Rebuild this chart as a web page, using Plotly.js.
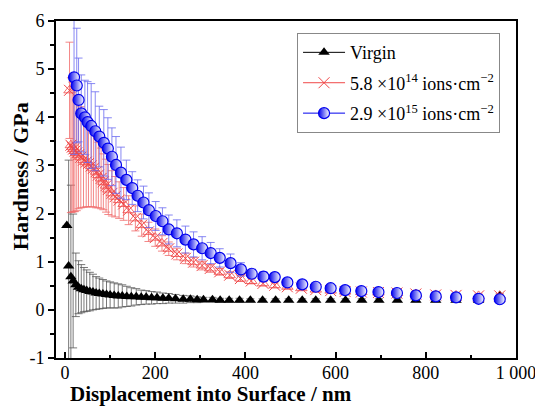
<!DOCTYPE html>
<html>
<head>
<meta charset="utf-8">
<script src="https://cdn.plot.ly/plotly-3.0.1.min.js"></script>
<style>html,body{margin:0;padding:0;background:#fff;}#chart{width:535px;height:406px;}</style>
</head>
<body>
<div id="chart"></div>
<script>
// Virgin
const virginX = [4, 8, 13, 18, 24, 30, 36, 42, 48, 55, 62, 69, 76, 84, 92, 100, 109, 118, 127, 137, 147, 158, 169, 180, 192, 204, 217, 230, 245, 262, 278, 293, 307, 327, 344, 364, 387, 411, 438, 467, 496, 526, 556, 589, 622, 658, 696, 737, 778, 822, 867, 917, 964];
const virginY = [1.75, 0.91, 0.69, 0.60, 0.52, 0.47, 0.44, 0.42, 0.40, 0.38, 0.37, 0.35, 0.34, 0.33, 0.32, 0.31, 0.30, 0.29, 0.29, 0.28, 0.27, 0.27, 0.26, 0.26, 0.25, 0.25, 0.24, 0.24, 0.23, 0.22, 0.22, 0.21, 0.21, 0.21, 0.20, 0.20, 0.20, 0.20, 0.20, 0.20, 0.20, 0.20, 0.20, 0.20, 0.20, 0.20, 0.20, 0.20, 0.20, 0.20, 0.20, 0.20, 0.30];
const virginErr = [0, 2.2, 1.9, 1.39, 0.66, 0.55, 0.5, 0.46, 0.43, 0.4, 0.37, 0.34, 0.32, 0.3, 0.28, 0.27, 0.26, 0.25, 0.23, 0.21, 0.19, 0.17, 0.15, 0.14, 0.13, 0.12, 0.11, 0.1, 0.09, 0.08, 0.07, 0.06, 0.05, 0.05, 0.04, 0.04, 0.04, 0.03, 0.03, 0.03, 0.03, 0.03, 0.03, 0.03, 0.03, 0.03, 0.03, 0.03, 0.03, 0.03, 0.03, 0.03, 0.03];

// 5.8e14
const lowX = [10, 13, 16, 19, 22, 26, 30, 35, 41, 47, 52, 58, 63, 69, 74, 80, 85, 91, 96, 104, 111, 120, 130, 141, 156, 170, 185, 200, 215, 230, 248, 267, 285, 304, 322, 343, 365, 389, 413, 439, 465, 493, 524, 556, 589, 621, 657, 695, 736, 778, 822, 867, 917, 964];
const lowY = [4.56, 3.42, 3.38, 3.34, 3.30, 3.26, 3.22, 3.17, 3.11, 3.07, 3.04, 2.99, 2.94, 2.87, 2.80, 2.73, 2.66, 2.58, 2.50, 2.42, 2.35, 2.28, 2.20, 2.07, 1.90, 1.76, 1.62, 1.50, 1.38, 1.27, 1.16, 1.07, 0.99, 0.92, 0.86, 0.79, 0.72, 0.65, 0.60, 0.55, 0.51, 0.48, 0.45, 0.42, 0.40, 0.38, 0.37, 0.36, 0.35, 0.33, 0.31, 0.30, 0.29, 0.29];
const lowErr = [1.0, 1.4, 1.35, 1.3, 1.26, 1.2, 1.12, 1.05, 0.98, 0.93, 0.9, 0.85, 0.8, 0.75, 0.68, 0.63, 0.58, 0.55, 0.52, 0.47, 0.42, 0.38, 0.34, 0.3, 0.26, 0.23, 0.2, 0.18, 0.16, 0.14, 0.12, 0.11, 0.1, 0.09, 0.08, 0.07, 0.07, 0.06, 0.06, 0.05, 0.05, 0.04, 0.04, 0.04, 0.04, 0.04, 0.04, 0.04, 0.04, 0.04, 0.04, 0.04, 0.04, 0.04];

// 2.9e15
const highX = [20, 26, 30, 36, 44, 50, 58, 67, 76, 86, 95, 104, 113, 124, 136, 149, 161, 174, 186, 201, 216, 230, 248, 267, 285, 304, 323, 343, 367, 390, 414, 440, 465, 493, 526, 556, 589, 621, 657, 695, 736, 778, 822, 867, 917, 964];
const highY = [4.83, 4.66, 4.36, 4.08, 4.00, 3.90, 3.82, 3.71, 3.60, 3.47, 3.35, 3.18, 3.01, 2.85, 2.70, 2.53, 2.37, 2.23, 2.07, 1.95, 1.84, 1.67, 1.59, 1.46, 1.36, 1.28, 1.18, 1.08, 0.97, 0.84, 0.75, 0.69, 0.68, 0.57, 0.53, 0.48, 0.45, 0.41, 0.39, 0.37, 0.35, 0.30, 0.28, 0.26, 0.23, 0.22];
const highErr = [1.6, 1.19, 0.87, 0.8, 0.77, 0.84, 0.88, 0.82, 0.63, 0.69, 0.64, 0.6, 0.59, 0.53, 0.41, 0.34, 0.33, 0.34, 0.36, 0.3, 0.28, 0.3, 0.28, 0.28, 0.26, 0.24, 0.22, 0.19, 0.19, 0.14, 0.09, 0.1, 0.08, 0.07, 0.06, 0.05, 0.05, 0.04, 0.04, 0.04, 0.03, 0.03, 0.03, 0.03, 0.03, 0.03];

const names = ['Virgin', '5.8 ×10<sup>14</sup> ions·cm<sup>−2</sup>', '2.9 ×10<sup>15</sup> ions·cm<sup>−2</sup>'];
const xTicks = [0, 200, 400, 600, 800, 1000];
const xTickText = ['0', '200', '400', '600', '800', '1 000'];
const yTicks = [-1, 0, 1, 2, 3, 4, 5, 6];
const yTickText = ['-1', '0', '1', '2', '3', '4', '5', '6'];
const xTitle = 'Displacement into Surface / nm';
const yTitle = 'Hardness / GPa';

const font = 'Liberation Serif, Times New Roman, serif';

const traces = [
  {x: virginX, y: virginY, type: 'scatter', mode: 'markers', showlegend: false,
   marker: {symbol: 'triangle-up', size: 10, color: '#000'},
   error_y: {type: 'data', array: virginErr, visible: true, color: '#555', thickness: 0.8, width: 4}},
  {x: lowX, y: lowY, type: 'scatter', mode: 'markers', showlegend: false,
   marker: {symbol: 'triangle-up-open', size: 10, color: '#f04848', line: {width: 0.8, color: '#f04848'}},
   error_y: {type: 'data', array: lowErr, visible: true, color: '#f06a6a', thickness: 0.8, width: 4}},
  {x: lowX, y: lowY, type: 'scatter', mode: 'markers', showlegend: false,
   marker: {symbol: 'x-thin-open', size: 11, color: '#f04848', line: {width: 1, color: '#f04848'}}},
  {x: highX, y: highY, type: 'scatter', mode: 'markers', showlegend: false,
   marker: {symbol: 'circle', size: 11, color: '#0000ee', line: {width: 1.2, color: '#0000ee'},
            gradient: {type: 'horizontal', color: '#ffffff'}},
   error_y: {type: 'data', array: highErr, visible: true, color: '#6a6af0', thickness: 0.8, width: 4}},
  // legend entries
  {x: [null], y: [null], type: 'scatter', mode: 'lines+markers', name: names[0], legendgroup: 'a',
   line: {color: '#000', width: 1}, marker: {symbol: 'triangle-up', size: 10, color: '#000'}},
  {x: [null], y: [null], type: 'scatter', mode: 'lines+markers', name: names[1], legendgroup: 'b',
   line: {color: '#f04848', width: 1}, marker: {symbol: 'x-thin-open', size: 11, color: '#f04848', line: {width: 1, color: '#f04848'}}},
  {x: [null], y: [null], type: 'scatter', mode: 'lines+markers', name: names[2], legendgroup: 'c',
   line: {color: '#0000ee', width: 1}, marker: {symbol: 'circle', size: 11, color: '#0000ee', line: {width: 1.2, color: '#0000ee'}, gradient: {type: 'horizontal', color: '#ffffff'}}}
];

const layout = {
  width: 535, height: 406,
  margin: {l: 56, r: 19, t: 21, b: 48},
  paper_bgcolor: '#fff', plot_bgcolor: '#fff',
  font: {family: font, size: 18, color: '#000'},
  showlegend: true,
  legend: {x: 0.524, y: 0.964, xanchor: 'left', yanchor: 'top', bgcolor: '#fff',
           bordercolor: '#888', borderwidth: 1, itemwidth: 42, tracegroupgap: 4, traceorder: 'grouped',
           font: {family: font, size: 18, color: '#000'}},
  xaxis: {range: [-20, 1000], showline: true, linewidth: 2, linecolor: '#000', mirror: true,
          ticks: 'inside', ticklen: 6, tickwidth: 2, tickcolor: '#000',
          tickvals: xTicks, ticktext: xTickText, showgrid: false, zeroline: false,
          ticklabeloverflow: 'allow', ticklabelstandoff: -3,
          minor: {dtick: 100, tick0: 0, ticks: 'inside', ticklen: 3, tickwidth: 2, tickcolor: '#000', showgrid: false},
          tickfont: {family: font, size: 18}},
  yaxis: {range: [-1, 6], showline: true, linewidth: 2, linecolor: '#000', mirror: true,
          ticks: 'outside', ticklen: 6, tickwidth: 2, tickcolor: '#000',
          tickvals: yTicks, ticktext: yTickText, showgrid: false, zeroline: false,
          minor: {dtick: 0.5, tick0: 0, ticks: 'outside', ticklen: 4, tickwidth: 2, tickcolor: '#000', showgrid: false},
          tickfont: {family: font, size: 18}},
  annotations: [
    {text: '<b>' + xTitle + '</b>', xref: 'paper', yref: 'paper', x: 0.337, y: -0.108,
     xanchor: 'center', yanchor: 'middle', showarrow: false, font: {family: font, size: 21, color: '#000'}},
    {text: '<b>' + yTitle + '</b>', xref: 'paper', yref: 'paper', x: -0.078, y: 0.54,
     xanchor: 'center', yanchor: 'middle', textangle: -90, showarrow: false, font: {family: font, size: 22, color: '#000'}}
  ]
};

Plotly.newPlot('chart', traces, layout, {displayModeBar: false, staticPlot: true});
</script>
</body>
</html>
